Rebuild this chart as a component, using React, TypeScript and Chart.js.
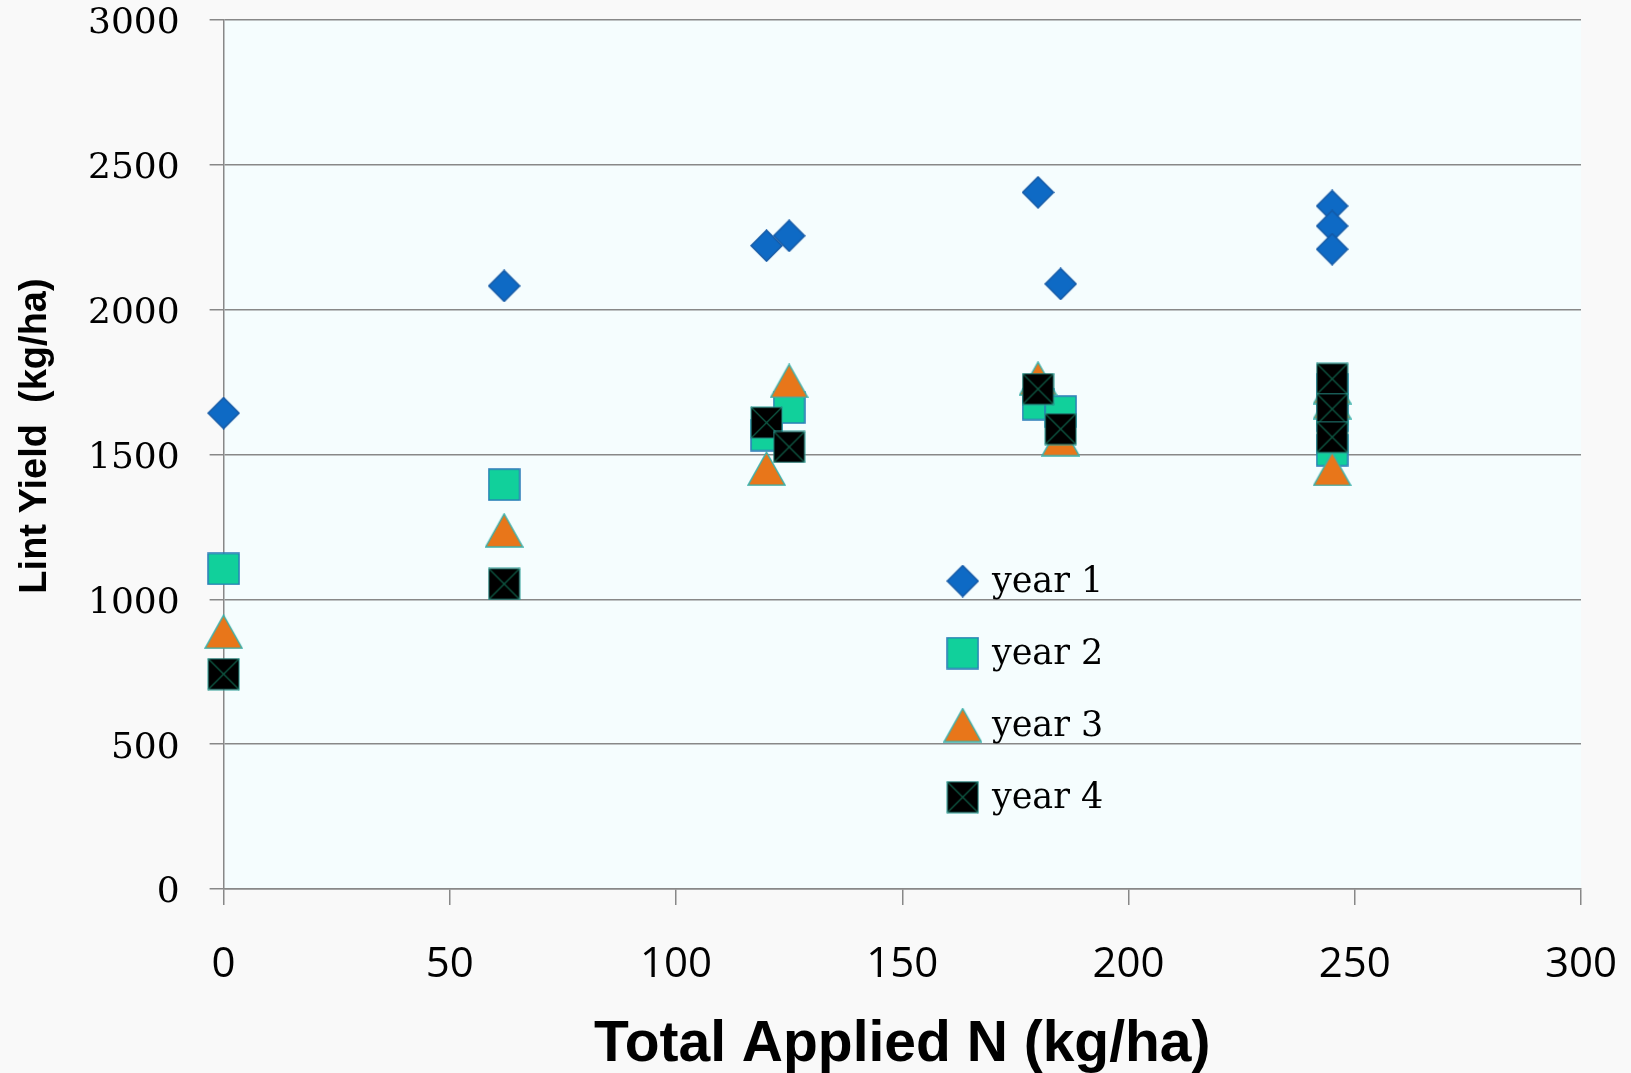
import React, { useEffect, useRef } from 'react';
import { Chart, registerables } from 'chart.js';

Chart.register(...registerables);

const seriesNames = ['year 1', 'year 2', 'year 3', 'year 4'];
const appliedN = [0, 62, 120, 125, 180, 185, 245, 245, 245];
const year1Yield = [1643, 2082, 2221, 2255, 2405, 2089, 2358, 2289, 2209];
const year2Yield = [1105, 1396, 1567, 1662, 1674, 1648, 1725, 1635, 1515];
const year3Yield = [888, 1238, 1451, 1754, 1762, 1553, 1733, 1681, 1450];
const year4Yield = [742, 1053, 1610, 1526, 1726, 1588, 1761, 1657, 1560];
const xTicks = [0, 50, 100, 150, 200, 250, 300];
const yTicks = [0, 500, 1000, 1500, 2000, 2500, 3000];
const xTitle = 'Total Applied N (kg/ha)';
const yTitle = 'Lint Yield  (kg/ha)';

const TITLE_FONT = "'Liberation Sans', 'Noto Sans', sans-serif";

function makeCanvas(w: number, h: number, draw: (ctx: CanvasRenderingContext2D) => void) {
  const c = document.createElement('canvas');
  c.width = w;
  c.height = h;
  const ctx = c.getContext('2d')!;
  draw(ctx);
  return c;
}

function makeMarkers() {
  const diamond = makeCanvas(33, 33, (ctx) => {
    ctx.beginPath();
    ctx.moveTo(16.5, 1);
    ctx.lineTo(32, 16.5);
    ctx.lineTo(16.5, 32);
    ctx.lineTo(1, 16.5);
    ctx.closePath();
    ctx.fillStyle = '#0E6AC5';
    ctx.fill();
    ctx.strokeStyle = '#1459A6';
    ctx.lineWidth = 1.5;
    ctx.stroke();
  });
  const square = makeCanvas(33, 33, (ctx) => {
    ctx.fillStyle = '#11D09B';
    ctx.fillRect(1, 1, 31, 31);
    ctx.strokeStyle = '#2A7BB8';
    ctx.lineWidth = 1.5;
    ctx.strokeRect(1, 1, 31, 31);
  });
  const triangle = makeCanvas(39, 35, (ctx) => {
    ctx.beginPath();
    ctx.moveTo(19.5, 1);
    ctx.lineTo(38, 34);
    ctx.lineTo(1, 34);
    ctx.closePath();
    ctx.fillStyle = '#E8761A';
    ctx.fill();
    ctx.strokeStyle = '#3BB0AA';
    ctx.lineWidth = 1.5;
    ctx.stroke();
  });
  const crossSquare = makeCanvas(33, 33, (ctx) => {
    ctx.fillStyle = '#000000';
    ctx.fillRect(1, 1, 31, 31);
    ctx.strokeStyle = '#0F5A45';
    ctx.lineWidth = 1.3;
    ctx.beginPath();
    ctx.moveTo(1, 1);
    ctx.lineTo(32, 32);
    ctx.moveTo(32, 1);
    ctx.lineTo(1, 32);
    ctx.stroke();
    ctx.strokeStyle = '#2A9C94';
    ctx.lineWidth = 1;
    ctx.strokeRect(1, 1, 31, 31);
  });
  return [diamond, square, triangle, crossSquare];
}

export default function App() {
  const canvasRef = useRef<HTMLCanvasElement | null>(null);

  useEffect(() => {
    const canvas = canvasRef.current;
    if (!canvas) return;
    const markers = makeMarkers();
    const yields = [year1Yield, year2Yield, year3Yield, year4Yield];

    const backgroundPlugin = {
      id: 'bgPlugin',
      beforeDraw(chart: any) {
        const { ctx, chartArea } = chart;
        ctx.save();
        ctx.fillStyle = '#F9F9F9';
        ctx.fillRect(0, 0, chart.width, chart.height);
        ctx.fillStyle = '#F5FDFE';
        ctx.fillRect(chartArea.left, chartArea.top, chartArea.right - chartArea.left, chartArea.bottom - chartArea.top);
        ctx.restore();
      },
    };

    const legendPlugin = {
      id: 'insideLegend',
      afterDatasetsDraw(chart: any) {
        const { ctx, chartArea } = chart;
        const w = chartArea.right - chartArea.left;
        const h = chartArea.bottom - chartArea.top;
        const mx = chartArea.left + 0.5445 * w;
        const tx = chartArea.left + 0.566 * w;
        const y0 = chartArea.top + 0.6456 * h;
        const dy = 0.0829 * h;
        ctx.save();
        ctx.font = "35px 'DejaVu Serif'";
        ctx.fillStyle = '#000000';
        ctx.textAlign = 'left';
        ctx.textBaseline = 'middle';
        seriesNames.forEach((name, i) => {
          const m = markers[i];
          const cy = y0 + i * dy;
          ctx.drawImage(m, mx - m.width / 2, cy - m.height / 2);
          ctx.fillText(name, tx, cy + 2);
        });
        ctx.restore();
      },
    };

    const yTitlePlugin = {
      id: 'yTitle',
      afterDraw(chart: any) {
        const { ctx } = chart;
        ctx.save();
        ctx.translate(36, 436);
        ctx.rotate(-Math.PI / 2);
        ctx.font = `bold 38px ${TITLE_FONT}`;
        ctx.fillStyle = '#000000';
        ctx.textAlign = 'center';
        ctx.textBaseline = 'middle';
        ctx.fillText(yTitle, 0, 0);
        ctx.restore();
      },
    };

    const chart = new Chart(canvas, {
      type: 'scatter',
      data: {
        datasets: seriesNames.map((name, i) => ({
          label: name,
          data: appliedN.map((x, j) => ({ x, y: yields[i][j] })),
          pointStyle: markers[i] as any,
          pointRadius: 16,
          pointHoverRadius: 16,
          showLine: false,
          clip: false,
          order: 4 - i,
        })),
      },
      options: {
        responsive: false,
        animation: false,
        layout: { padding: { top: 20, right: 50, left: 0, bottom: 0 } },
        plugins: {
          legend: { display: false },
          tooltip: { enabled: false },
        },
        scales: {
          x: {
            type: 'linear',
            min: 0,
            max: 300,
            afterBuildTicks(scale: any) {
              scale.ticks = xTicks.map((v) => ({ value: v }));
            },
            afterFit(scale: any) {
              scale.height = 184;
              scale.paddingLeft = 0;
              scale.paddingRight = 0;
            },
            grid: {
              drawOnChartArea: false,
              drawTicks: true,
              tickLength: 16,
              color: '#888888',
              lineWidth: 1.5,
            },
            border: { color: '#888888', width: 1.5 },
            ticks: {
              color: '#000000',
              padding: 35,
              maxRotation: 0,
              font: { family: "'Open Sans'", size: 42 },
              callback: (v: any) => String(v),
            },
            title: {
              display: true,
              text: xTitle,
              color: '#000000',
              font: { family: TITLE_FONT, size: 57, weight: 'bold', lineHeight: 0.8 },
              padding: { top: 0, bottom: 5 },
            },
          },
          y: {
            type: 'linear',
            min: 0,
            max: 3000,
            afterBuildTicks(scale: any) {
              scale.ticks = yTicks.map((v) => ({ value: v }));
            },
            afterFit(scale: any) {
              scale.width = 223.6;
              scale.paddingTop = 0;
              scale.paddingBottom = 0;
            },
            grid: {
              drawOnChartArea: true,
              drawTicks: true,
              tickLength: 14,
              color: '#888888',
              lineWidth: 1.5,
            },
            border: { color: '#888888', width: 1.5 },
            ticks: {
              color: '#000000',
              padding: 30,
              labelOffset: 4,
              font: { family: "'DejaVu Serif'", size: 36 },
              callback: (v: any) => String(v),
            },
          },
        },
      },
      plugins: [backgroundPlugin, legendPlugin, yTitlePlugin],
    } as any);

    return () => {
      chart.destroy();
    };
  }, []);

  return (
    <div style={{ position: 'fixed', left: 0, top: 0, width: 1631, height: 1073, background: '#F9F9F9' }}>
      <canvas ref={canvasRef} width={1631} height={1073} style={{ display: 'block', width: 1631, height: 1073 }} />
    </div>
  );
}
